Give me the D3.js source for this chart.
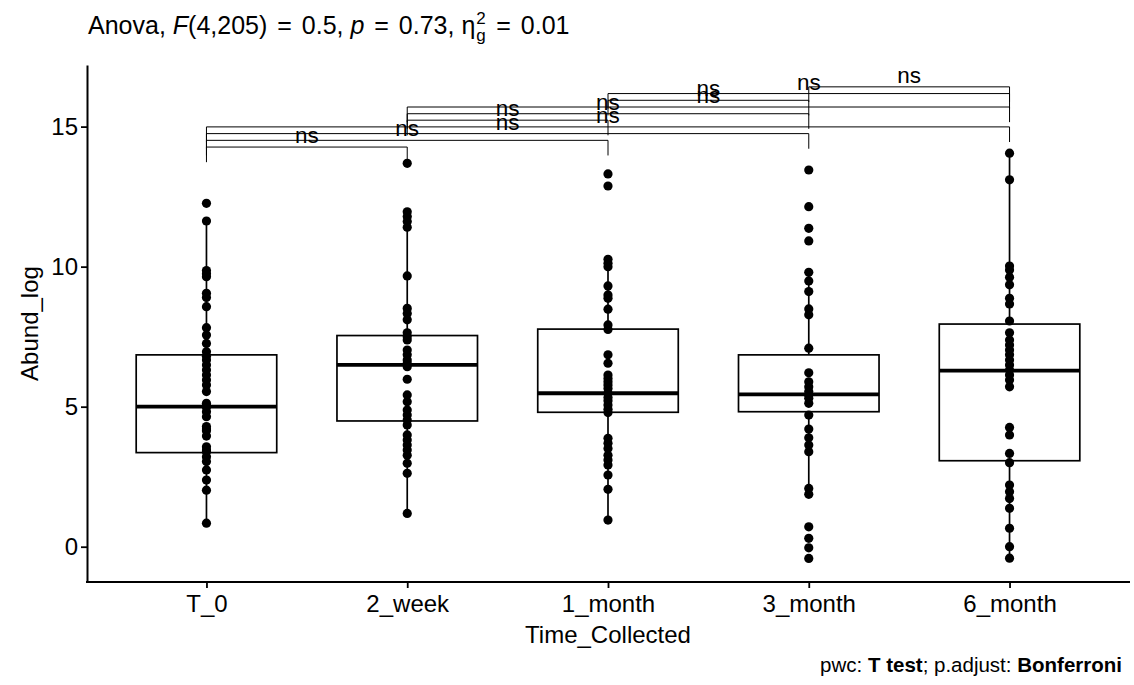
<!DOCTYPE html>
<html>
<head>
<meta charset="utf-8">
<script src="https://cdn.jsdelivr.net/npm/d3@7"></script>
<style>
  body { margin: 0; background: #fff; }
  svg { font-family: "Liberation Sans", Arial, Helvetica, sans-serif; }
</style>
</head>
<body>
<div id="chart"></div>
<script>
// groups on the x axis
const groups = ["T_0", "2_week", "1_month", "3_month", "6_month"];

// raw points per group (Abund_log)
const ptsT0 = [12.26, 11.63, 9.86, 9.75, 9.64, 9.05, 8.9, 8.57, 7.82, 7.56, 7.26, 6.96, 6.8, 6.67,
  6.49, 6.31, 6.13, 5.95, 5.77, 5.54, 5.12, 5.05, 4.98, 4.82, 4.64, 4.29, 4.2, 4.14, 3.95, 3.57,
  3.45, 3.39, 3.21, 3.04, 2.74, 2.38, 2.02, 0.84];
const pts2w = [13.69, 11.96, 11.79, 11.61, 11.41, 9.67, 8.51, 8.33, 8.1, 7.64, 7.5, 7.38, 7.02,
  6.85, 6.67, 6.55, 6.43, 5.98, 5.42, 5.18, 4.88, 4.7, 4.52, 4.35, 3.99, 3.81, 3.63, 3.45, 3.27,
  2.98, 2.62, 1.19];
const pts1m = [13.31, 12.88, 10.26, 10.12, 10.0, 9.31, 8.99, 8.87, 8.48, 7.92, 7.76, 6.85, 6.55,
  6.13, 6.01, 5.89, 5.77, 5.65, 5.48, 5.33, 5.21, 5.06, 4.91, 4.79, 3.87, 3.69, 3.51, 3.27, 3.1,
  2.92, 2.56, 2.05, 0.95];
const pts3m = [13.45, 12.14, 11.37, 10.92, 9.8, 9.49, 9.11, 8.49, 8.28, 7.09, 6.21, 5.89, 5.71,
  5.54, 5.42, 5.3, 5.12, 4.7, 4.2, 3.89, 3.63, 3.39, 2.08, 1.87, 0.71, 0.3, -0.04, -0.42];
const pts6m = [14.05, 13.1, 10.02, 9.88, 9.62, 9.35, 8.87, 8.67, 8.06, 7.64, 7.38, 7.2, 7.02,
  6.85, 6.67, 6.49, 6.31, 6.13, 5.95, 5.71, 4.26, 3.99, 3.33, 3.0, 2.2, 1.96, 1.72, 1.37, 0.66,
  0.0, -0.41];

// boxplot stats per group
const q1 = [3.36, 4.49, 4.80, 4.82, 3.07];
const median = [5.0, 6.49, 5.48, 5.44, 6.29];
const q3 = [6.85, 7.54, 7.77, 6.85, 7.95];
const whiskLo = [0.84, 1.19, 0.95, 1.87, -0.41];
const whiskHi = [11.63, 11.96, 10.26, 9.8, 14.05];

// pairwise comparisons
const pairs = [["T_0", "2_week"], ["T_0", "1_month"], ["T_0", "3_month"], ["T_0", "6_month"],
  ["2_week", "1_month"], ["2_week", "3_month"], ["2_week", "6_month"],
  ["1_month", "3_month"], ["1_month", "6_month"], ["3_month", "6_month"]];
const pairY = [14.27, 14.51, 14.75, 14.99, 15.23, 15.46, 15.70, 15.94, 16.18, 16.42];
const pairLabel = ["ns", "ns", "ns", "ns", "ns", "ns", "ns", "ns", "ns", "ns"];
const tipLength = 0.54;

const yTicks = [0, 5, 10, 15];

const points = [ptsT0, pts2w, pts1m, pts3m, pts6m];

const width = 1134, height = 685;
const margin = { left: 87, right: 4, top: 65, bottom: 103 };
const fs = 24;

const svg = d3.select("#chart").append("svg")
  .attr("width", width)
  .attr("height", height);

// scales
const x = d3.scalePoint()
  .domain(groups)
  .range([margin.left - 1, width - margin.right])
  .padding(0.6);

const y = d3.scaleLinear()
  .domain([-1.26, 17.2])
  .range([height - margin.bottom, margin.top]);

const boxW = x.step() * 0.7;

// boxes
const boxes = svg.append("g")
  .selectAll("g")
  .data(groups)
  .join("g");

boxes.append("line")
  .attr("x1", (d) => x(d)).attr("x2", (d) => x(d))
  .attr("y1", (d, i) => y(whiskHi[i])).attr("y2", (d, i) => y(q3[i]))
  .attr("stroke", "#000").attr("stroke-width", 1.7);

boxes.append("line")
  .attr("x1", (d) => x(d)).attr("x2", (d) => x(d))
  .attr("y1", (d, i) => y(q1[i])).attr("y2", (d, i) => y(whiskLo[i]))
  .attr("stroke", "#000").attr("stroke-width", 1.7);

boxes.append("rect")
  .attr("x", (d) => x(d) - boxW / 2)
  .attr("width", boxW)
  .attr("y", (d, i) => y(q3[i]))
  .attr("height", (d, i) => y(q1[i]) - y(q3[i]))
  .attr("fill", "#fff")
  .attr("stroke", "#000")
  .attr("stroke-width", 1.7);

boxes.append("line")
  .attr("x1", (d) => x(d) - boxW / 2).attr("x2", (d) => x(d) + boxW / 2)
  .attr("y1", (d, i) => y(median[i])).attr("y2", (d, i) => y(median[i]))
  .attr("stroke", "#000").attr("stroke-width", 3.8);

// points
svg.append("g")
  .selectAll("circle")
  .data(points.flatMap((arr, i) => arr.map((v) => ({ g: groups[i], v }))))
  .join("circle")
  .attr("cx", (d) => x(d.g))
  .attr("cy", (d) => y(d.v))
  .attr("r", 4.6)
  .attr("fill", "#000");

// axes
const xAxis = svg.append("g")
  .attr("transform", `translate(0,${height - margin.bottom})`)
  .call(d3.axisBottom(x).tickSize(6).tickSizeOuter(0));

const yAxis = svg.append("g")
  .attr("transform", `translate(${margin.left},0)`)
  .call(d3.axisLeft(y).tickValues(yTicks).tickSize(6).tickSizeOuter(0));

[xAxis, yAxis].forEach((a) => {
  a.select(".domain").attr("stroke", "#000").attr("stroke-width", 2);
  a.selectAll(".tick line").attr("stroke", "#000").attr("stroke-width", 1.8);
  a.selectAll(".tick text").attr("fill", "#000").attr("font-size", fs)
    .attr("font-family", "Liberation Sans, Arial, sans-serif");
});
xAxis.select(".domain").attr("d", `M${margin.left - 1},0H${width - margin.right}`);
xAxis.selectAll(".tick text").attr("dy", "0.95em").attr("y", 7);
yAxis.selectAll(".tick text").attr("x", -9);

// axis titles
svg.append("text")
  .attr("x", x(groups[2]))
  .attr("y", 643)
  .attr("text-anchor", "middle")
  .attr("font-size", fs)
  .text("Time_Collected");

svg.append("text")
  .attr("transform", `translate(38,${(margin.top + height - margin.bottom) / 2}) rotate(-90)`)
  .attr("text-anchor", "middle")
  .attr("font-size", fs)
  .text("Abund_log");

// comparison brackets
const br = svg.append("g")
  .selectAll("g")
  .data(pairs)
  .join("g");

br.append("path")
  .attr("d", (d, i) => {
    const x1 = x(d[0]), x2 = x(d[1]);
    const yl = y(pairY[i]), yt = y(pairY[i] - tipLength);
    return `M${x1},${yt}V${yl}H${x2}V${yt}`;
  })
  .attr("fill", "none")
  .attr("stroke", "#000")
  .attr("stroke-width", 1);

br.append("text")
  .attr("x", (d) => (x(d[0]) + x(d[1])) / 2)
  .attr("y", (d, i) => y(pairY[i]) - 4)
  .attr("text-anchor", "middle")
  .attr("font-size", 22.5)
  .text((d, i) => pairLabel[i]);

// title (plotmath-like spacing around "=")
const tfs = 25, gap = 3;
const title = svg.append("text")
  .attr("x", margin.left + 1)
  .attr("y", 34)
  .attr("font-size", tfs);
title.append("tspan").text("Anova, ");
title.append("tspan").attr("font-style", "italic").text("F");
title.append("tspan").text("(4,205)");
title.append("tspan").attr("dx", gap).text(" = ");
title.append("tspan").attr("dx", gap).text("0.5, ");
title.append("tspan").attr("font-style", "italic").text("p");
title.append("tspan").attr("dx", gap).text(" = ");
title.append("tspan").attr("dx", gap).text("0.73, ");
title.append("tspan").text("η");
const tb = title.node().getBBox();
const etaEnd = tb.x + tb.width;
svg.append("text").attr("x", etaEnd + 1).attr("y", 24).attr("font-size", 17).text("2");
svg.append("text").attr("x", etaEnd + 1).attr("y", 41).attr("font-size", 17).text("g");
const t2 = svg.append("text").attr("x", etaEnd + 11).attr("y", 34).attr("font-size", tfs);
t2.append("tspan").attr("dx", gap).text("\u00a0= ");
t2.append("tspan").attr("dx", gap).text("0.01");

// caption
const cap = svg.append("text")
  .attr("x", 1122)
  .attr("y", 672)
  .attr("text-anchor", "end")
  .attr("font-size", 20.5);
cap.append("tspan").text("pwc: ");
cap.append("tspan").attr("font-weight", "bold").text("T test");
cap.append("tspan").text("; p.adjust: ");
cap.append("tspan").attr("font-weight", "bold").text("Bonferroni");
</script>
</body>
</html>
